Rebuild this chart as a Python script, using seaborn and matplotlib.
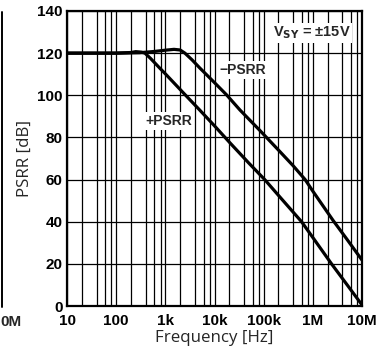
import numpy as np
import pandas as pd
import matplotlib
matplotlib.use("Agg")
import matplotlib.pyplot as plt
import seaborn as sns
from matplotlib.lines import Line2D
from matplotlib.ticker import FixedLocator, NullFormatter

# ---- data ----
freq_pos = [10, 100, 200, 250, 320, 385, 500, 777, 1e3, 2.54e3, 5e3, 1e4, 2.05e4, 5e4,
            1.05e5, 2e5, 5.9e5, 1e6, 2.4e6, 5e6, 1e7]
psrr_pos = [120, 120, 120.3, 120.7, 120.5, 120.0, 117.5, 112.8, 110.2, 100.2, 93.0, 85.5,
            77.5, 67.8, 60.0, 52.5, 40.0, 32.5, 20.0, 10.0, 0.5]

freq_neg = [10, 100, 300, 600, 1e3, 1.5e3, 2e3, 2.5e3, 3.5e3, 5e3, 1e4, 1.76e4, 3.3e4,
            8.3e4, 2e5, 4e5, 6.97e5, 1e6, 2.6e6, 5e6, 1e7]
psrr_neg = [120, 120, 120.2, 120.8, 121.4, 121.8, 121.5, 120.0, 116.8, 113.0, 106.0, 100.2,
            93.0, 83.4, 74.0, 66.5, 60.0, 54.5, 40.5, 31.5, 21.8]

x_ticks = [10, 100, 1e3, 1e4, 1e5, 1e6, 1e7]
x_tick_labels = ["10", "100", "1k", "10k", "100k", "1M", "10M"]
y_ticks = [0, 20, 40, 60, 80, 100, 120, 140]

df = pd.concat([
    pd.DataFrame({"f": freq_pos, "psrr": psrr_pos, "s": "+PSRR"}),
    pd.DataFrame({"f": freq_neg, "psrr": psrr_neg, "s": "-PSRR"}),
])

sns.set_style("white")
fig = plt.figure(figsize=(3.78, 3.51), dpi=100)
ax = fig.add_axes([67 / 378, 45 / 351, 295 / 378, 295 / 351])

sns.lineplot(data=df, x="f", y="psrr", hue="s", palette=["black", "black"],
             linewidth=2.3, legend=False, ax=ax, zorder=3, sort=False)

ax.set_xscale("log")
ax.set_xlim(10, 1e7)
ax.set_ylim(0, 140)

# grid
minor = []
for d in range(1, 7):
    for m in (2, 4, 6, 8):
        minor.append(m * 10 ** d)
ax.xaxis.set_major_locator(FixedLocator(x_ticks))
ax.xaxis.set_minor_locator(FixedLocator(minor))
ax.xaxis.set_minor_formatter(NullFormatter())
ax.set_xticklabels(x_tick_labels)
ax.set_yticks(y_ticks)
ax.grid(True, which="both", axis="x", color="black", linewidth=0.9)
ax.grid(True, which="major", axis="y", color="black", linewidth=0.9)
ax.set_axisbelow(True)
ax.tick_params(axis="x", which="both", length=0, pad=6)
ax.tick_params(axis="y", which="both", length=0, pad=3)
for lab in ax.get_xticklabels() + ax.get_yticklabels():
    lab.set_fontfamily("Liberation Sans")
    lab.set_fontweight("bold")
    lab.set_fontsize(11)
    lab.set_color("black")

for sp in ax.spines.values():
    sp.set_visible(True)
    sp.set_color("black")
    sp.set_linewidth(1.6)

ax.set_xlabel("Frequency [Hz]", fontfamily="Open Sans", fontsize=12.2, labelpad=1)
ax.set_ylabel("PSRR [dB]", fontfamily="Open Sans", fontsize=12.2, labelpad=3)

bb = dict(facecolor="white", edgecolor="none", pad=1.5)
ax.text(1.16e3, 87.8, "+PSRR", fontfamily="Liberation Sans", fontweight="bold",
        fontsize=10, ha="center", va="center", bbox=bb, zorder=4)
ax.text(3.7e4, 112, "\u2212PSRR", fontfamily="Liberation Sans", fontweight="bold",
        fontsize=10, ha="center", va="center", bbox=bb, zorder=4)
ax.text(9.4e5, 129.6, "V$_{\\mathbf{SY}}$ = \u00b115V",
        fontfamily="Liberation Sans", fontweight="bold",
        fontsize=10.5, ha="center", va="center", bbox=bb, zorder=4)

# remnant of neighbouring chart at left edge
fig.add_artist(Line2D([2 / 378, 2 / 378], [1 - 12 / 351, 1 - 307 / 351],
                      transform=fig.transFigure, color="black", linewidth=1.4))
fig.text(0.5 / 378, 1 - 322 / 351, "0M", fontfamily="Liberation Sans",
         fontweight="bold", fontsize=11, ha="left", va="center")

fig.savefig("out.png", dpi=100)
